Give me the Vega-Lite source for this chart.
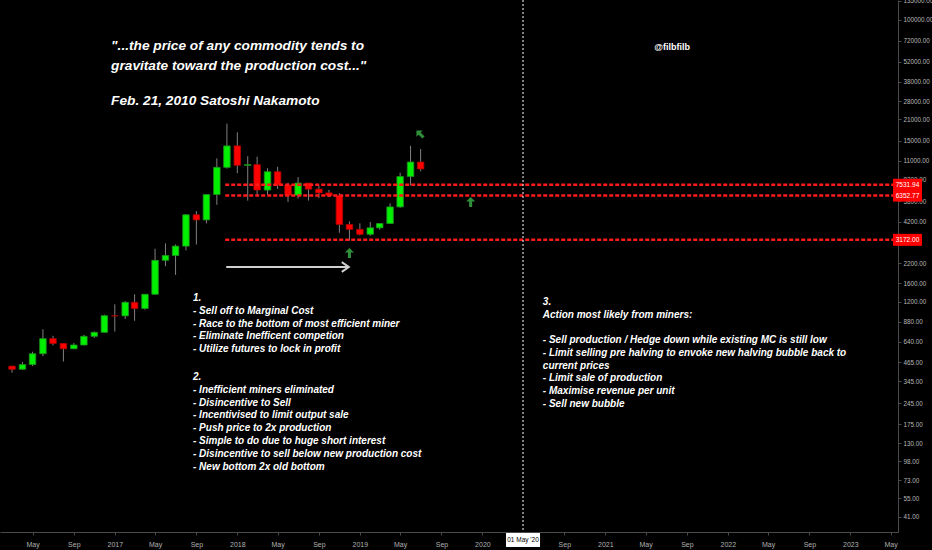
{
  "$schema": "https://vega.github.io/schema/vega-lite/v6.json",
  "width": 898,
  "height": 532,
  "autosize": {"type": "none"},
  "padding": {"left": 0, "top": 0, "right": 34, "bottom": 18},
  "background": "#000000",
  "config": {"view": {"stroke": null}, "font": "Liberation Sans"},
  "datasets": {
    "candles": [
      {"date": "2016-03-01", "open": 437, "high": 439, "low": 394, "close": 416},
      {"date": "2016-04-01", "open": 416, "high": 467, "low": 412, "close": 448},
      {"date": "2016-05-01", "open": 448, "high": 548, "low": 438, "close": 531},
      {"date": "2016-06-01", "open": 531, "high": 780, "low": 511, "close": 673},
      {"date": "2016-07-01", "open": 673, "high": 703, "low": 605, "close": 624},
      {"date": "2016-08-01", "open": 624, "high": 626, "low": 470, "close": 574},
      {"date": "2016-09-01", "open": 574, "high": 628, "low": 570, "close": 609},
      {"date": "2016-10-01", "open": 609, "high": 714, "low": 605, "close": 698},
      {"date": "2016-11-01", "open": 698, "high": 752, "low": 680, "close": 743},
      {"date": "2016-12-01", "open": 743, "high": 980, "low": 741, "close": 964},
      {"date": "2017-01-01", "open": 964, "high": 1153, "low": 752, "close": 962},
      {"date": "2017-02-01", "open": 962, "high": 1213, "low": 915, "close": 1190},
      {"date": "2017-03-01", "open": 1190, "high": 1350, "low": 891, "close": 1080},
      {"date": "2017-04-01", "open": 1080, "high": 1350, "low": 1060, "close": 1350},
      {"date": "2017-05-01", "open": 1350, "high": 2760, "low": 1340, "close": 2300},
      {"date": "2017-06-01", "open": 2300, "high": 3000, "low": 2100, "close": 2480},
      {"date": "2017-07-01", "open": 2480, "high": 2950, "low": 1830, "close": 2875},
      {"date": "2017-08-01", "open": 2875, "high": 4760, "low": 2690, "close": 4700},
      {"date": "2017-09-01", "open": 4700, "high": 4980, "low": 2950, "close": 4340},
      {"date": "2017-10-01", "open": 4340, "high": 6470, "low": 4110, "close": 6460},
      {"date": "2017-11-01", "open": 6460, "high": 11400, "low": 5500, "close": 9900},
      {"date": "2017-12-01", "open": 9900, "high": 19660, "low": 9700, "close": 13860},
      {"date": "2018-01-01", "open": 13860, "high": 17180, "low": 9030, "close": 10220},
      {"date": "2018-02-01", "open": 10220, "high": 11790, "low": 5870, "close": 10330},
      {"date": "2018-03-01", "open": 10330, "high": 11700, "low": 6430, "close": 6930},
      {"date": "2018-04-01", "open": 6930, "high": 9770, "low": 6430, "close": 9240},
      {"date": "2018-05-01", "open": 9240, "high": 9990, "low": 7040, "close": 7490},
      {"date": "2018-06-01", "open": 7490, "high": 7760, "low": 5750, "close": 6390},
      {"date": "2018-07-01", "open": 6390, "high": 8500, "low": 6070, "close": 7730},
      {"date": "2018-08-01", "open": 7730, "high": 7760, "low": 5880, "close": 7030},
      {"date": "2018-09-01", "open": 7030, "high": 7410, "low": 6120, "close": 6630},
      {"date": "2018-10-01", "open": 6630, "high": 6950, "low": 6200, "close": 6370},
      {"date": "2018-11-01", "open": 6370, "high": 6600, "low": 3550, "close": 4040},
      {"date": "2018-12-01", "open": 4040, "high": 4230, "low": 3130, "close": 3740},
      {"date": "2019-01-01", "open": 3740, "high": 4110, "low": 3400, "close": 3460},
      {"date": "2019-02-01", "open": 3460, "high": 4200, "low": 3380, "close": 3830},
      {"date": "2019-03-01", "open": 3830, "high": 4110, "low": 3720, "close": 4100},
      {"date": "2019-04-01", "open": 4100, "high": 5630, "low": 4080, "close": 5320},
      {"date": "2019-05-01", "open": 5320, "high": 9100, "low": 5250, "close": 8570},
      {"date": "2019-06-01", "open": 8570, "high": 13880, "low": 7450, "close": 10760},
      {"date": "2019-07-01", "open": 10760, "high": 13200, "low": 9300, "close": 9650}
    ],
    "levels": [
      {"price": 7531.94, "label": "7531.94", "start": "2017-11-26", "end": "2023-05-08"},
      {"price": 6352.77, "label": "6352.77", "start": "2017-11-26", "end": "2023-05-08"},
      {"price": 3172.00, "label": "3172.00", "start": "2017-11-26", "end": "2023-05-08"}
    ],
    "marker": [{"date": "2020-05-01", "label": "01 May '20", "price": 32.35}],
    "titleLines": [
      {"date": "2016-12-21", "price": 62930, "text": "\"...the price of any commodity tends to"},
      {"date": "2016-12-21", "price": 45970, "text": "gravitate toward the production cost...\""},
      {"date": "2016-12-21", "price": 26340, "text": "Feb. 21, 2010 Satoshi Nakamoto"}
    ],
    "blocks": [
      {"date": "2017-08-22", "price": 1215, "text": "1.\n- Sell off to Marginal Cost\n- Race to the bottom of most efficient miner\n- Eliminate Inefficent competion\n- Utilize futures to lock in profit"},
      {"date": "2017-08-22", "price": 351.6, "text": "2.\n- Inefficient miners eliminated\n- Disincentive to Sell\n- Incentivised to limit output sale\n- Push price to 2x production\n- Simple to do due to huge short interest\n- Disincentive to sell below new production cost\n- New bottom 2x old bottom"},
      {"date": "2020-06-29", "price": 1141, "text": "3.\nAction most likely from miners:"},
      {"date": "2020-06-29", "price": 628.5, "text": "- Sell production / Hedge down while existing MC is still low\n- Limit selling pre halving to envoke new halving bubble back to\ncurrent prices\n- Limit sale of production\n- Maximise revenue per unit\n- Sell new bubble"}
    ],
    "author": [{"date": "2021-07-19", "price": 62460, "text": "@filbfilb"}],
    "upArrows": [
      {"date": "2018-12-01", "price": 2583},
      {"date": "2019-11-27", "price": 5747}
    ],
    "diagArrow": [{"date": "2019-06-29", "price": 16710}],
    "pointer": [{"start": "2017-11-29", "end": "2018-11-29", "price": 2071}]
  },
  "encoding": {
    "x": {
      "field": "date",
      "type": "temporal",
      "scale": {"type": "utc", "domain": [{"year": 2016, "month": 2, "date": 9, "utc": true}, {"year": 2023, "month": 5, "date": 8, "utc": true}]},
      "axis": {
        "orient": "bottom",
        "title": null,
        "grid": false,
        "zindex": 0,
        "domainColor": "#4a4a4a",
        "tickColor": "#4a4a4a",
        "tickSize": 3,
        "labelColor": "#b0b0b0",
        "labelFont": "Liberation Sans",
        "labelFontSize": 7,
        "labelPadding": 5,
        "labelFlush": false,
        "labelOverlap": false,
        "tickCount": {"interval": "month", "step": 4},
        "labelExpr": "(utcyear(datum.value) == 2020 && utcmonth(datum.value) == 4) ? '' : (utcmonth(datum.value) == 0 ? utcFormat(datum.value, '%Y') : utcFormat(datum.value, '%b'))"
      }
    },
    "y": {
      "field": "low",
      "type": "quantitative",
      "scale": {"type": "log", "domain": [32.35, 136870]},
      "axis": {
        "orient": "right",
        "title": null,
        "grid": false,
        "zindex": 0,
        "values": [135000, 100000, 72000, 52000, 38000, 28000, 21000, 15000, 11000, 8200, 5800, 4200, 2200, 1600, 1200, 880, 640, 465, 345, 245, 175, 130, 98, 73, 55, 41],
        "format": ".2f",
        "domainColor": "#4a4a4a",
        "tickColor": "#4a4a4a",
        "tickSize": 3,
        "labelColor": "#b8b8b8",
        "labelFont": "Liberation Sans",
        "labelFontSize": 6.3,
        "labelPadding": 2,
        "labelFlush": false,
        "labelOverlap": false
      }
    }
  },
  "layer": [
    {
      "data": {"name": "candles"},
      "mark": {"type": "rule", "color": "#808080", "strokeWidth": 1},
      "encoding": {"y2": {"field": "high"}}
    },
    {
      "data": {"name": "candles"},
      "mark": {"type": "bar", "width": 6.5, "strokeWidth": 0.8},
      "encoding": {
        "y": {"field": "open", "type": "quantitative"},
        "y2": {"field": "close"},
        "color": {"condition": {"test": "datum.close >= datum.open", "value": "#00f000"}, "value": "#ff0000"},
        "stroke": {"condition": {"test": "datum.close >= datum.open", "value": "#1f8f1f"}, "value": "#b00000"}
      }
    },
    {
      "data": {"name": "levels"},
      "mark": {"type": "rule", "color": "#ff1a1a", "strokeWidth": 2.5, "strokeDash": [4, 2]},
      "encoding": {
        "x": {"field": "start", "type": "temporal"},
        "x2": {"field": "end"},
        "y": {"field": "price", "type": "quantitative"}
      }
    },
    {
      "data": {"name": "levels"},
      "mark": {"type": "rect", "color": "#ff0000", "x2Offset": 29, "yOffset": -6, "y2Offset": 6},
      "encoding": {
        "x": {"field": "end", "type": "temporal"},
        "x2": {"field": "end"},
        "y": {"field": "price", "type": "quantitative"},
        "y2": {"field": "price"}
      }
    },
    {
      "data": {"name": "levels"},
      "mark": {"type": "text", "color": "#ffffff", "fontSize": 6.5, "align": "center", "baseline": "middle", "dx": 14.5},
      "encoding": {
        "x": {"field": "end", "type": "temporal"},
        "y": {"field": "price", "type": "quantitative"},
        "text": {"field": "label"}
      }
    },
    {
      "data": {"name": "marker"},
      "mark": {"type": "rule", "color": "#ffffff", "strokeWidth": 1, "strokeDash": [2, 2]},
      "encoding": {"y": null}
    },
    {
      "data": {"name": "marker"},
      "mark": {"type": "rect", "color": "#ffffff", "xOffset": -17, "x2Offset": 17, "yOffset": 1, "y2Offset": 15},
      "encoding": {
        "x2": {"field": "date"},
        "y": {"field": "price", "type": "quantitative"},
        "y2": {"field": "price"}
      }
    },
    {
      "data": {"name": "marker"},
      "mark": {"type": "text", "color": "#000000", "fontSize": 6.5, "align": "center", "baseline": "middle", "dy": 8},
      "encoding": {
        "y": {"field": "price", "type": "quantitative"},
        "text": {"field": "label"}
      }
    },
    {
      "data": {"name": "pointer"},
      "mark": {"type": "rule", "color": "#d0d0d0", "strokeWidth": 2},
      "encoding": {
        "x": {"field": "start", "type": "temporal"},
        "x2": {"field": "end"},
        "y": {"field": "price", "type": "quantitative"}
      }
    },
    {
      "data": {"name": "pointer"},
      "mark": {"type": "point", "shape": "M-1,-0.7L0,0L-1,0.7", "filled": false, "stroke": "#d0d0d0", "strokeWidth": 2, "size": 196, "opacity": 1},
      "encoding": {
        "x": {"field": "end", "type": "temporal"},
        "y": {"field": "price", "type": "quantitative"}
      }
    },
    {
      "data": {"name": "upArrows"},
      "mark": {"type": "point", "shape": "M-0.3,1L0.3,1L0.3,-0.1L0.9,-0.1L0,-1L-0.9,-0.1L-0.3,-0.1Z", "filled": true, "color": "#2f8f3a", "size": 100, "opacity": 1},
      "encoding": {"y": {"field": "price", "type": "quantitative"}}
    },
    {
      "data": {"name": "diagArrow"},
      "mark": {"type": "point", "shape": "M-0.3,1L0.3,1L0.3,-0.1L0.9,-0.1L0,-1L-0.9,-0.1L-0.3,-0.1Z", "filled": true, "color": "#2f8f3a", "size": 100, "opacity": 1, "angle": -45},
      "encoding": {"y": {"field": "price", "type": "quantitative"}}
    },
    {
      "data": {"name": "titleLines"},
      "mark": {"type": "text", "color": "#ffffff", "fontSize": 13.7, "fontStyle": "italic", "fontWeight": "bold", "align": "left", "baseline": "alphabetic"},
      "encoding": {
        "y": {"field": "price", "type": "quantitative"},
        "text": {"field": "text"}
      }
    },
    {
      "data": {"name": "blocks"},
      "mark": {"type": "text", "color": "#ffffff", "fontSize": 10, "fontStyle": "italic", "fontWeight": "bold", "align": "left", "baseline": "alphabetic", "lineBreak": "\n", "lineHeight": 12.8},
      "encoding": {
        "y": {"field": "price", "type": "quantitative"},
        "text": {"field": "text"}
      }
    },
    {
      "data": {"name": "author"},
      "mark": {"type": "text", "color": "#ffffff", "fontSize": 9, "fontWeight": "bold", "align": "center", "baseline": "alphabetic"},
      "encoding": {
        "y": {"field": "price", "type": "quantitative"},
        "text": {"field": "text"}
      }
    }
  ]
}
